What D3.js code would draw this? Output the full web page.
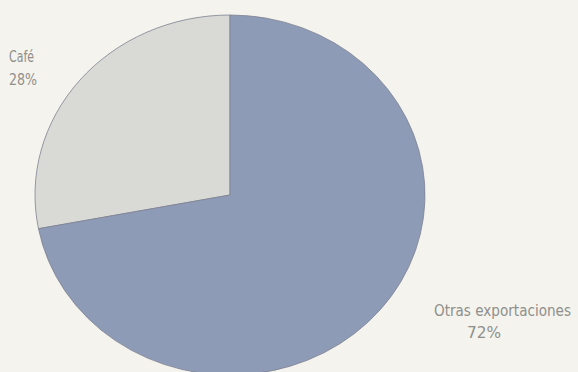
<!DOCTYPE html>
<html>
<head>
<meta charset="utf-8">
<script src="https://cdn.jsdelivr.net/npm/d3@7"></script>
<style>
  html, body { margin: 0; padding: 0; background: #f4f3ed; }
  svg { display: block; }
  .lbl { font-family: "Liberation Sans Narrow", "DejaVu Sans Condensed", sans-serif; font-size: 16px; fill: #8f8f8c; }
</style>
</head>
<body>
<svg id="chart" width="578" height="372"></svg>
<script>
// Export composition (share of total, %)
const categories = ["Café", "Otras exportaciones"];
const shares = [28, 72];
const labelLines = [["Café", "28%"], ["Otras exportaciones", "72%"]];
const colors = ["#d9dad6", "#8e9bb7"];

const W = 578, H = 372;
const cx = 230, cy = 195, rx = 195, ry = 180;

const svg = d3.select("#chart");
svg.append("rect").attr("width", W).attr("height", H).attr("fill", "#f4f3ed");

// Café sits counter-clockwise from 12 o'clock, the rest fills the circle
const start = -shares[0] / 100 * 2 * Math.PI;
const pie = d3.pie().sort(null).value(d => d).startAngle(start).endAngle(start + 2 * Math.PI);
const arc = d3.arc().innerRadius(0).outerRadius(rx);

const g = svg.append("g")
  .attr("transform", `translate(${cx},${cy}) scale(1,${ry / rx})`);

g.selectAll("path")
  .data(pie(shares))
  .join("path")
  .attr("d", arc)
  .attr("fill", (d, i) => colors[i])
  .attr("stroke", "#7d8291")
  .attr("stroke-width", 0.8)
  .attr("vector-effect", "non-scaling-stroke");

// Labels (condensed lettering)
function label(x, y, txt, len, anchor) {
  svg.append("text").attr("class", "lbl")
    .attr("x", x).attr("y", y)
    .attr("text-anchor", anchor || "start")
    .attr("textLength", len)
    .attr("lengthAdjust", "spacingAndGlyphs")
    .text(txt);
}
label(9, 62, labelLines[0][0], 25);
label(9, 85, labelLines[0][1], 28);
label(434, 316, labelLines[1][0], 137);
label(467, 338, labelLines[1][1], 34);
</script>
</body>
</html>
